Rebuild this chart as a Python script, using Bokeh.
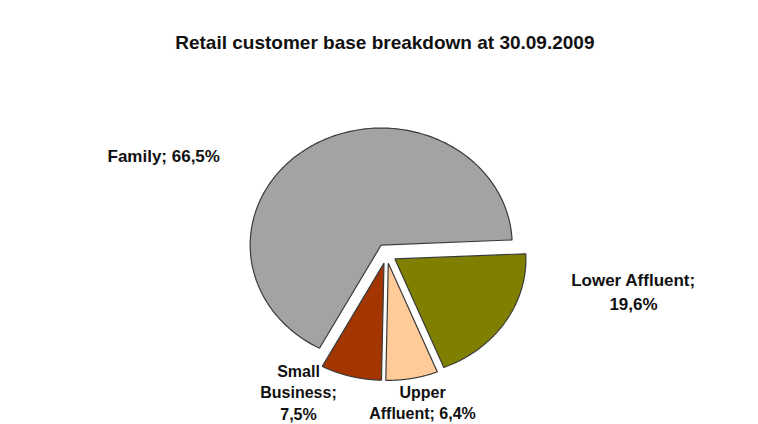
import numpy as np
from bokeh.plotting import figure
from bokeh.models import Range1d, ColumnDataSource
from bokeh.core.properties import value
from bokeh.embed import file_html
from bokeh.resources import INLINE

# ---- data ----
title_text = "Retail customer base breakdown at  30.09.2009"
categories = ["Family", "Small Business", "Upper Affluent", "Lower Affluent"]
shares = [66.5, 7.5, 6.4, 19.6]
label_texts = ["Family; 66,5%", "Small\nBusiness;\n7,5%", "Upper\nAffluent; 6,4%", "Lower Affluent;\n19,6%"]
colors = ["#A3A3A3", "#A33500", "#FFCC99", "#808000"]

# ---- layout constants (screen pixels) ----
W, H = 758, 424
CX, CY = 386, 253        # pie centre
RX, RY = 131, 117        # ellipse radii
EXPLODE = 10             # explosion distance
START_DEG = 2.5          # start angle, counter-clockwise
label_x = [107, 298, 422, 633]
label_y = [146, 362, 383, 270]
label_align = ["left", "center", "center", "center"]
label_size = ["17px", "16px", "16px", "17px"]

p = figure(width=W, height=H, x_range=Range1d(0, W), y_range=Range1d(H, 0),
           output_backend="svg", toolbar_location=None, min_border=0)
p.axis.visible = False
p.grid.visible = False
p.outline_line_color = None
p.background_fill_color = "white"
p.border_fill_color = "white"

vals = np.array(shares, dtype=float)
ends = np.radians(START_DEG) + np.cumsum(vals) / vals.sum() * 2 * np.pi
starts = np.concatenate([[np.radians(START_DEG)], ends[:-1]])

xs, ys = [], []
for a0, a1 in zip(starts, ends):
    mid = (a0 + a1) / 2
    ox = CX + EXPLODE * np.cos(mid)
    oy = CY - EXPLODE * np.sin(mid)
    t = np.linspace(a0, a1, 120)
    xs.append(np.concatenate([[ox], ox + RX * np.cos(t)]).tolist())
    ys.append(np.concatenate([[oy], oy - RY * np.sin(t)]).tolist())

src = ColumnDataSource(dict(xs=xs, ys=ys, color=colors, cat=categories))
p.patches("xs", "ys", source=src, fill_color="color", line_color="#3a3a3a", line_width=1.2)

lsrc = ColumnDataSource(dict(x=label_x, y=label_y, text=label_texts, align=label_align,
                             size=label_size))
p.text("x", "y", text="text", source=lsrc, text_align="align", text_baseline="top",
       text_font=value("Liberation Sans"), text_font_style="bold", text_font_size="size",
       text_line_height=1.28, text_color="#111111")

p.text([387], [42], text=[title_text], text_align="center", text_baseline="middle",
       text_font=value("Liberation Sans"), text_font_style="bold", text_font_size="19px",
       text_color="#111111")

open("out.html", "w").write(file_html(p, INLINE))
